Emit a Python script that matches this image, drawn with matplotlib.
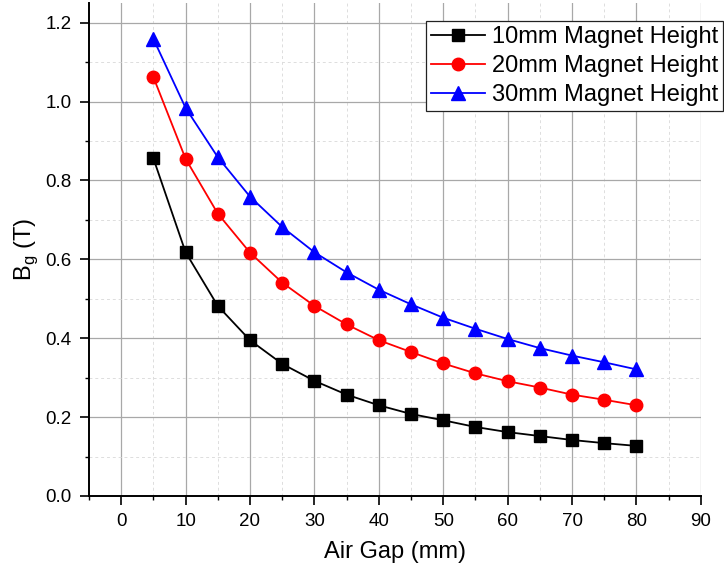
import matplotlib
matplotlib.use("Agg")
import matplotlib.pyplot as plt
from matplotlib.ticker import MultipleLocator

plt.rcParams["font.family"] = ["Liberation Sans", "DejaVu Sans"]
plt.rcParams["mathtext.fontset"] = "custom"
plt.rcParams["mathtext.rm"] = "Liberation Sans"

# air gap (mm)
air_gap = [5, 10, 15, 20, 25, 30, 35, 40, 45, 50, 55, 60, 65, 70, 75, 80]

# flux density Bg (T)
bg_10mm = [0.856, 0.618, 0.482, 0.395, 0.335, 0.292, 0.257, 0.230,
           0.208, 0.192, 0.175, 0.162, 0.152, 0.142, 0.134, 0.127]
bg_20mm = [1.062, 0.855, 0.716, 0.617, 0.541, 0.482, 0.435, 0.395,
           0.365, 0.336, 0.311, 0.291, 0.275, 0.257, 0.244, 0.230]
bg_30mm = [1.159, 0.984, 0.859, 0.759, 0.682, 0.618, 0.567, 0.523,
           0.486, 0.452, 0.424, 0.398, 0.375, 0.356, 0.339, 0.321]

fig = plt.figure(figsize=(7.24, 5.74), dpi=100, facecolor="white")
ax = fig.add_axes([0.1229, 0.1359, 0.968 - 0.1229, 0.9948 - 0.1359])

ax.plot(air_gap, bg_10mm, color="black", marker="s", markersize=8,
        linewidth=1.3, label="10mm Magnet Height", zorder=3)
ax.plot(air_gap, bg_20mm, color="red", marker="o", markersize=9,
        linewidth=1.3, label="20mm Magnet Height", zorder=3)
ax.plot(air_gap, bg_30mm, color="blue", marker="^", markersize=10,
        linewidth=1.3, label="30mm Magnet Height", zorder=3)

ax.set_xlim(-5, 90)
ax.set_ylim(0, 1.25)
ax.xaxis.set_major_locator(MultipleLocator(10))
ax.xaxis.set_minor_locator(MultipleLocator(5))
ax.yaxis.set_major_locator(MultipleLocator(0.2))
ax.yaxis.set_minor_locator(MultipleLocator(0.1))
ax.yaxis.set_major_formatter(plt.FormatStrFormatter("%.1f"))

# grid
ax.set_axisbelow(True)
ax.grid(True, which="major", color="#a8a8a8", linewidth=0.9, linestyle="-")
ax.grid(True, which="minor", color="#dddddd", linewidth=0.7, linestyle=(0, (3, 3)))

# spines
ax.spines["top"].set_visible(False)
ax.spines["right"].set_visible(False)
for s in ["left", "bottom"]:
    ax.spines[s].set_linewidth(1.4)

ax.tick_params(which="major", direction="out", length=6.5, width=1.2,
               labelsize=13.5, pad=6)
ax.tick_params(which="minor", direction="out", length=3, width=1.0)

ax.set_xlabel("Air Gap (mm)", fontsize=17, labelpad=8)
ax.set_ylabel(r"B$_\mathrm{g}$ (T)", fontsize=17, labelpad=4)

leg = ax.legend(loc="upper right", bbox_to_anchor=(0.999, 0.963),
                bbox_transform=fig.transFigure, fontsize=17, frameon=True,
                fancybox=False, edgecolor="#222222", framealpha=1,
                handlelength=2.3, handletextpad=0.3, borderpad=0.2,
                labelspacing=0.3, borderaxespad=0)
leg.get_frame().set_linewidth(0.9)

plt.savefig("out.png", dpi=100)
plt.close()
